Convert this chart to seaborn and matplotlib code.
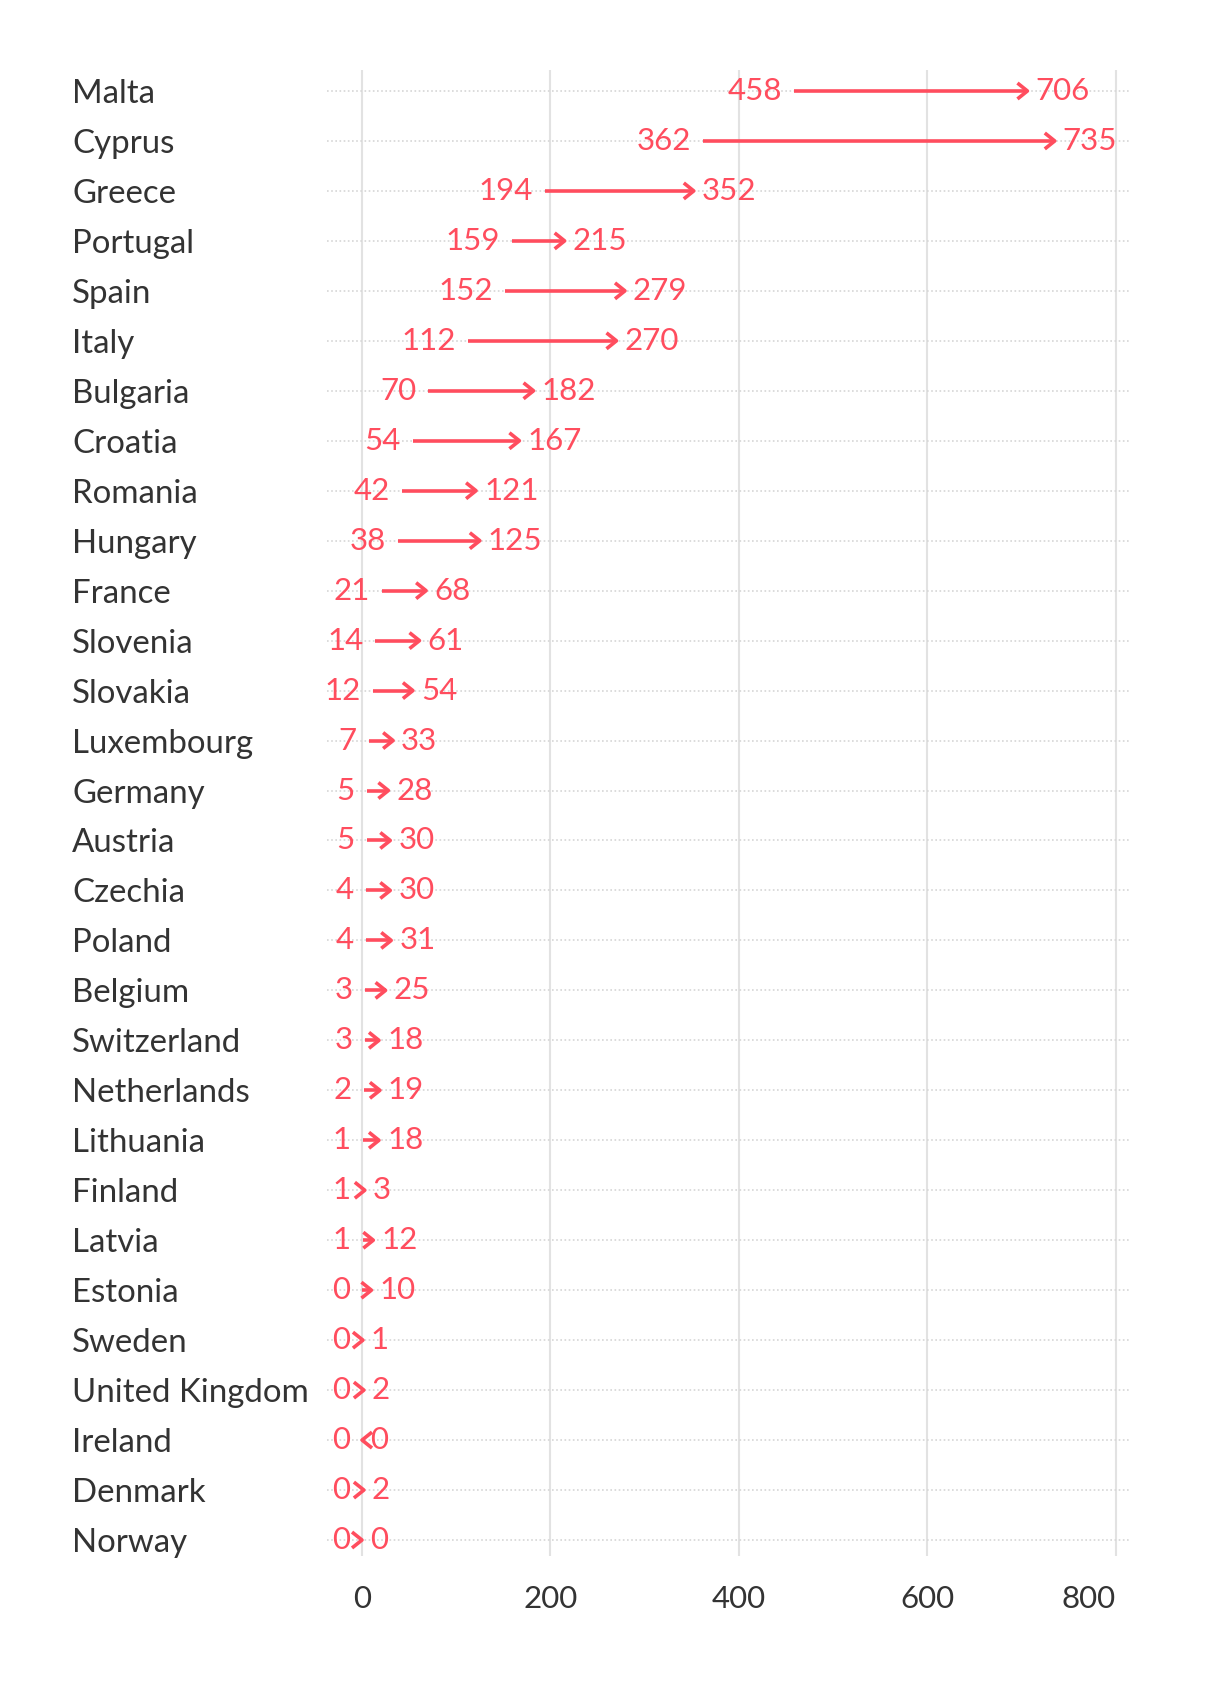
import numpy as np
import pandas as pd
import matplotlib
matplotlib.use("Agg")
import matplotlib.pyplot as plt
import seaborn as sns
from matplotlib.path import Path

countries = ["Malta", "Cyprus", "Greece", "Portugal", "Spain", "Italy", "Bulgaria",
             "Croatia", "Romania", "Hungary", "France", "Slovenia", "Slovakia",
             "Luxembourg", "Germany", "Austria", "Czechia", "Poland", "Belgium",
             "Switzerland", "Netherlands", "Lithuania", "Finland", "Latvia", "Estonia",
             "Sweden", "United Kingdom", "Ireland", "Denmark", "Norway"]
start_vals = [458, 362, 194, 159, 152, 112, 70, 54, 42, 38, 21, 14, 12, 7, 5, 5, 4, 4,
              3, 3, 2, 1, 1, 1, 0, 0, 0, 0.4, 0, 0]
end_vals = [706, 735, 352, 215, 279, 270, 182, 167, 121, 125, 68, 61, 54, 33, 28, 30,
            30, 31, 25, 18, 19, 18, 3, 12, 10, 1, 2, 0.1, 2, 0]
x_ticks = [0, 200, 400, 600, 800]

RED = "#FF4D5E"
TEXT = "#333333"
FS = 22.5
FS_CAT = 23.8

sns.set_theme(style="white")
plt.rcParams["font.family"] = ["Lato", "DejaVu Sans"]

W, H = 1220, 1694
fig = plt.figure(figsize=(W / 100, H / 100), dpi=100)
ax = fig.add_axes([327 / W, 1 - 1556 / H, (1129 - 327) / W, (1556 - 70) / H])

df = pd.DataFrame({"country": countries, "start": start_vals, "end": end_vals})
df["y"] = np.arange(len(df))
df["up"] = df["end"] >= df["start"]

# arrow shafts
lc = ax.hlines(df["y"], df["start"], df["end"], color=RED, lw=2.6, zorder=3)
lc.set_capstyle("butt")

# arrow heads (chevrons)
codes = [Path.MOVETO, Path.LINETO, Path.LINETO]
head_right = Path([(-1.25, 1), (0, 0), (-1.25, -1)], codes)
head_left = Path([(1.25, 1), (0, 0), (1.25, -1)], codes)
for mask, mk in [(df["up"], head_right), (~df["up"], head_left)]:
    sub = df[mask]
    if len(sub) == 0:
        continue
    n_before = len(ax.collections)
    sns.scatterplot(data=sub, x="end", y="y", marker=mk, s=205, ax=ax,
                    legend=False, zorder=4)
    coll = ax.collections[n_before]
    coll.set_facecolor("none")
    coll.set_edgecolor(RED)
    coll.set_linewidth(2.6)

# value labels
for _, r in df.iterrows():
    lo_v, hi_v = (r["start"], r["end"]) if r["up"] else (r["end"], r["start"])
    ax.annotate(f"{lo_v:.0f}", (lo_v, r["y"]), xytext=(-8.6, 0),
                textcoords="offset points", ha="right", va="center",
                color=RED, fontsize=FS, zorder=5)
    ax.annotate(f"{hi_v:.0f}", (hi_v, r["y"]), xytext=(5.8, 0),
                textcoords="offset points", ha="left", va="center",
                color=RED, fontsize=FS, zorder=5)

ax.set_xlim(-37.1, 813.8)
ax.set_ylim(29.32, -0.42)
ax.set_xticks(x_ticks)
ax.set_xticklabels([str(t) for t in x_ticks])
ax.set_yticks(df["y"])
ax.set_yticklabels(countries)
ax.set_xlabel("")
ax.set_ylabel("")

ax.xaxis.grid(True, color="#e2e2e2", lw=1.5, ls="-")
ax.yaxis.grid(True, color="#d6d6d6", lw=1.2, ls=(0, (1, 1.5)))
ax.set_axisbelow(True)
for sp in ax.spines.values():
    sp.set_visible(False)

ax.tick_params(axis="y", length=0, pad=255 * 0.72, labelsize=FS_CAT, labelcolor=TEXT)
ax.tick_params(axis="x", length=0, pad=21, labelsize=FS, labelcolor=TEXT)
for lab in ax.get_yticklabels():
    lab.set_horizontalalignment("left")
ax.get_xticklabels()[-1].set_horizontalalignment("right")

fig.savefig("out.png", dpi=100, facecolor="white")
